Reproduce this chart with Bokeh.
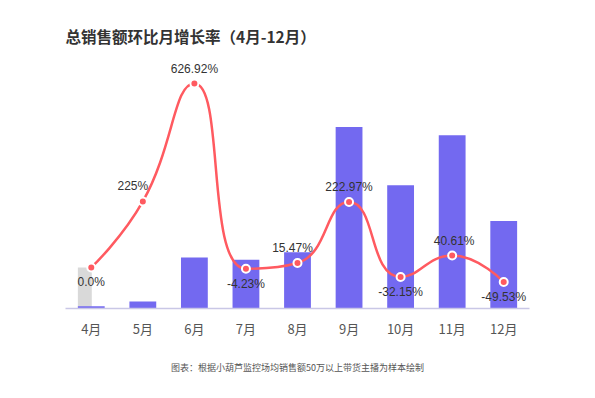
from math import hypot
from bokeh.plotting import figure
from bokeh.models import Range1d, FactorRange, ColumnDataSource, Title
from bokeh.transform import dodge
from bokeh.core.properties import value
from bokeh.embed import file_html
from bokeh.resources import INLINE

# ---------------- data ----------------
months = ["4月", "5月", "6月", "7月", "8月", "9月", "10月", "11月", "12月"]
sales = [2.2, 7.0, 50.9, 48.7, 56.2, 181.5, 123.2, 173.2, 87.4]
rates = [0.0, 225.0, 626.92, -4.23, 15.47, 222.97, -32.15, 40.61, -49.53]
rate_labels = ["0.0%", "225%", "626.92%", "-4.23%", "15.47%", "222.97%", "-32.15%", "40.61%", "-49.53%"]
shadow_month = ["4月"]
shadow_value = [41.0]

title_text = "总销售额环比月增长率（4月-12月）"
footer_text = "图表：根据小葫芦监控场均销售额50万以上带货主播为样本绘制"

# ---------------- layout / style ----------------
W, H = 595, 398
L, R, T, B = 65, 66, 48, 90
frame_w = W - L - R
frame_h = H - T - B
bar_lo, bar_hi = 0, 260
rate_lo, rate_hi = -139.7, 746.2

BAR = "#7369F0"
LINE = "#FF5A60"
CJK = "Noto Sans CJK SC"
LAT = "Liberation Sans"
label_dx = [0, -10, 0, 0, -5, 0, 0, 2, 0]

p = figure(width=W, height=H, x_range=FactorRange(*months),
           y_range=Range1d(bar_lo, bar_hi),
           output_backend="svg", toolbar_location=None,
           y_axis_location=None, min_border_left=L, min_border_right=R,
           min_border_top=T, min_border_bottom=B)
p.extra_y_ranges = {"rate": Range1d(rate_lo, rate_hi)}
p.outline_line_color = None
p.xgrid.visible = False
p.ygrid.visible = False
p.background_fill_color = "white"
p.border_fill_color = "white"

p.title.text = title_text
p.title.text_font = CJK
p.title.text_font_size = "15.5px"
p.title.text_font_style = "bold"
p.title.text_color = "#333333"
p.title.align = "left"
p.title.standoff = 3

foot = Title(text=footer_text, align="center", text_font=CJK,
             text_font_size="9px", text_font_style="normal",
             text_color="#555555", standoff=36)
p.add_layout(foot, "below")

ax = p.xaxis[0]
ax.axis_line_color = "#C9C7E6"
ax.axis_line_width = 1.5
ax.major_tick_line_color = None
ax.minor_tick_line_color = None
ax.major_label_text_font = CJK
ax.major_label_text_font_size = "13px"
ax.major_label_text_color = "#555555"
ax.major_label_standoff = 4

# bars
p.vbar(x=dodge("m", -0.125, range=p.x_range), top="v", width=0.27,
       source=ColumnDataSource(dict(m=shadow_month, v=shadow_value)),
       fill_color="#D9D9D9", line_color=None)
p.vbar(x="m", top="v", width=0.52,
       source=ColumnDataSource(dict(m=months, v=sales)),
       fill_color=BAR, line_color=None)

# smooth line (echarts-like smoothing computed in pixel space)
px_cat = frame_w / len(months)
px_pct = frame_h / (rate_hi - rate_lo)
xs = [i * px_cat for i in range(len(months))]
ys = [r * px_pct for r in rates]

def clamp(v, a, b):
    lo, hi = min(a, b), max(a, b)
    return min(max(v, lo), hi)

def smooth_segments(xs, ys, s=0.5):
    n = len(xs)
    segs = []
    cp0 = (xs[0], ys[0])
    for k in range(1, n):
        x, y = xs[k], ys[k]
        px, py = xs[k - 1], ys[k - 1]
        if k == n - 1:
            cp1 = (x, y)
            ncp = (x, y)
        else:
            nx, ny = xs[k + 1], ys[k + 1]
            vx, vy = nx - px, ny - py
            lp = hypot(x - px, y - py)
            ln = hypot(nx - x, ny - y)
            r = ln / (ln + lp)
            ncx = clamp(x + vx * s * r, nx, x)
            ncy = clamp(y + vy * s * r, ny, y)
            vx, vy = ncx - x, ncy - y
            c1x = clamp(x - vx * lp / ln, px, x)
            c1y = clamp(y - vy * lp / ln, py, y)
            vx, vy = x - c1x, y - c1y
            ncx = x + vx * ln / lp
            ncy = y + vy * ln / lp
            cp1 = (c1x, c1y)
            ncp = (ncx, ncy)
        segs.append(((px, py), cp0, cp1, (x, y)))
        cp0 = ncp
    return segs

def to_x(v):
    return v / px_cat + 0.5

def to_y(v):
    return v / px_pct

segs = smooth_segments(xs, ys)
bz = dict(x0=[], y0=[], x1=[], y1=[], cx0=[], cy0=[], cx1=[], cy1=[])
for a, c0, c1, b in segs:
    bz["x0"].append(to_x(a[0])); bz["y0"].append(to_y(a[1]))
    bz["cx0"].append(to_x(c0[0])); bz["cy0"].append(to_y(c0[1]))
    bz["cx1"].append(to_x(c1[0])); bz["cy1"].append(to_y(c1[1]))
    bz["x1"].append(to_x(b[0])); bz["y1"].append(to_y(b[1]))
p.bezier(x0="x0", y0="y0", x1="x1", y1="y1", cx0="cx0", cy0="cy0",
         cx1="cx1", cy1="cy1", source=ColumnDataSource(bz),
         y_range_name="rate", line_color=LINE, line_width=2.5)

p.scatter(x=months, y=rates, y_range_name="rate", size=8,
          fill_color=LINE, line_color="white", line_width=2)

offs = [-8 if r > 0 else 8 for r in rates]
bases = ["bottom" if r > 0 else "top" for r in rates]
p.text(x="m", y="r", text="t", x_offset="dx", y_offset="o", text_baseline="b",
       source=ColumnDataSource(dict(m=months, r=rates, t=rate_labels, o=offs,
                                    b=bases, dx=label_dx)),
       y_range_name="rate", text_align="center", text_font=value(LAT),
       text_font_size="12px", text_color="#333333")

open("out.html", "w").write(file_html(p, INLINE))
